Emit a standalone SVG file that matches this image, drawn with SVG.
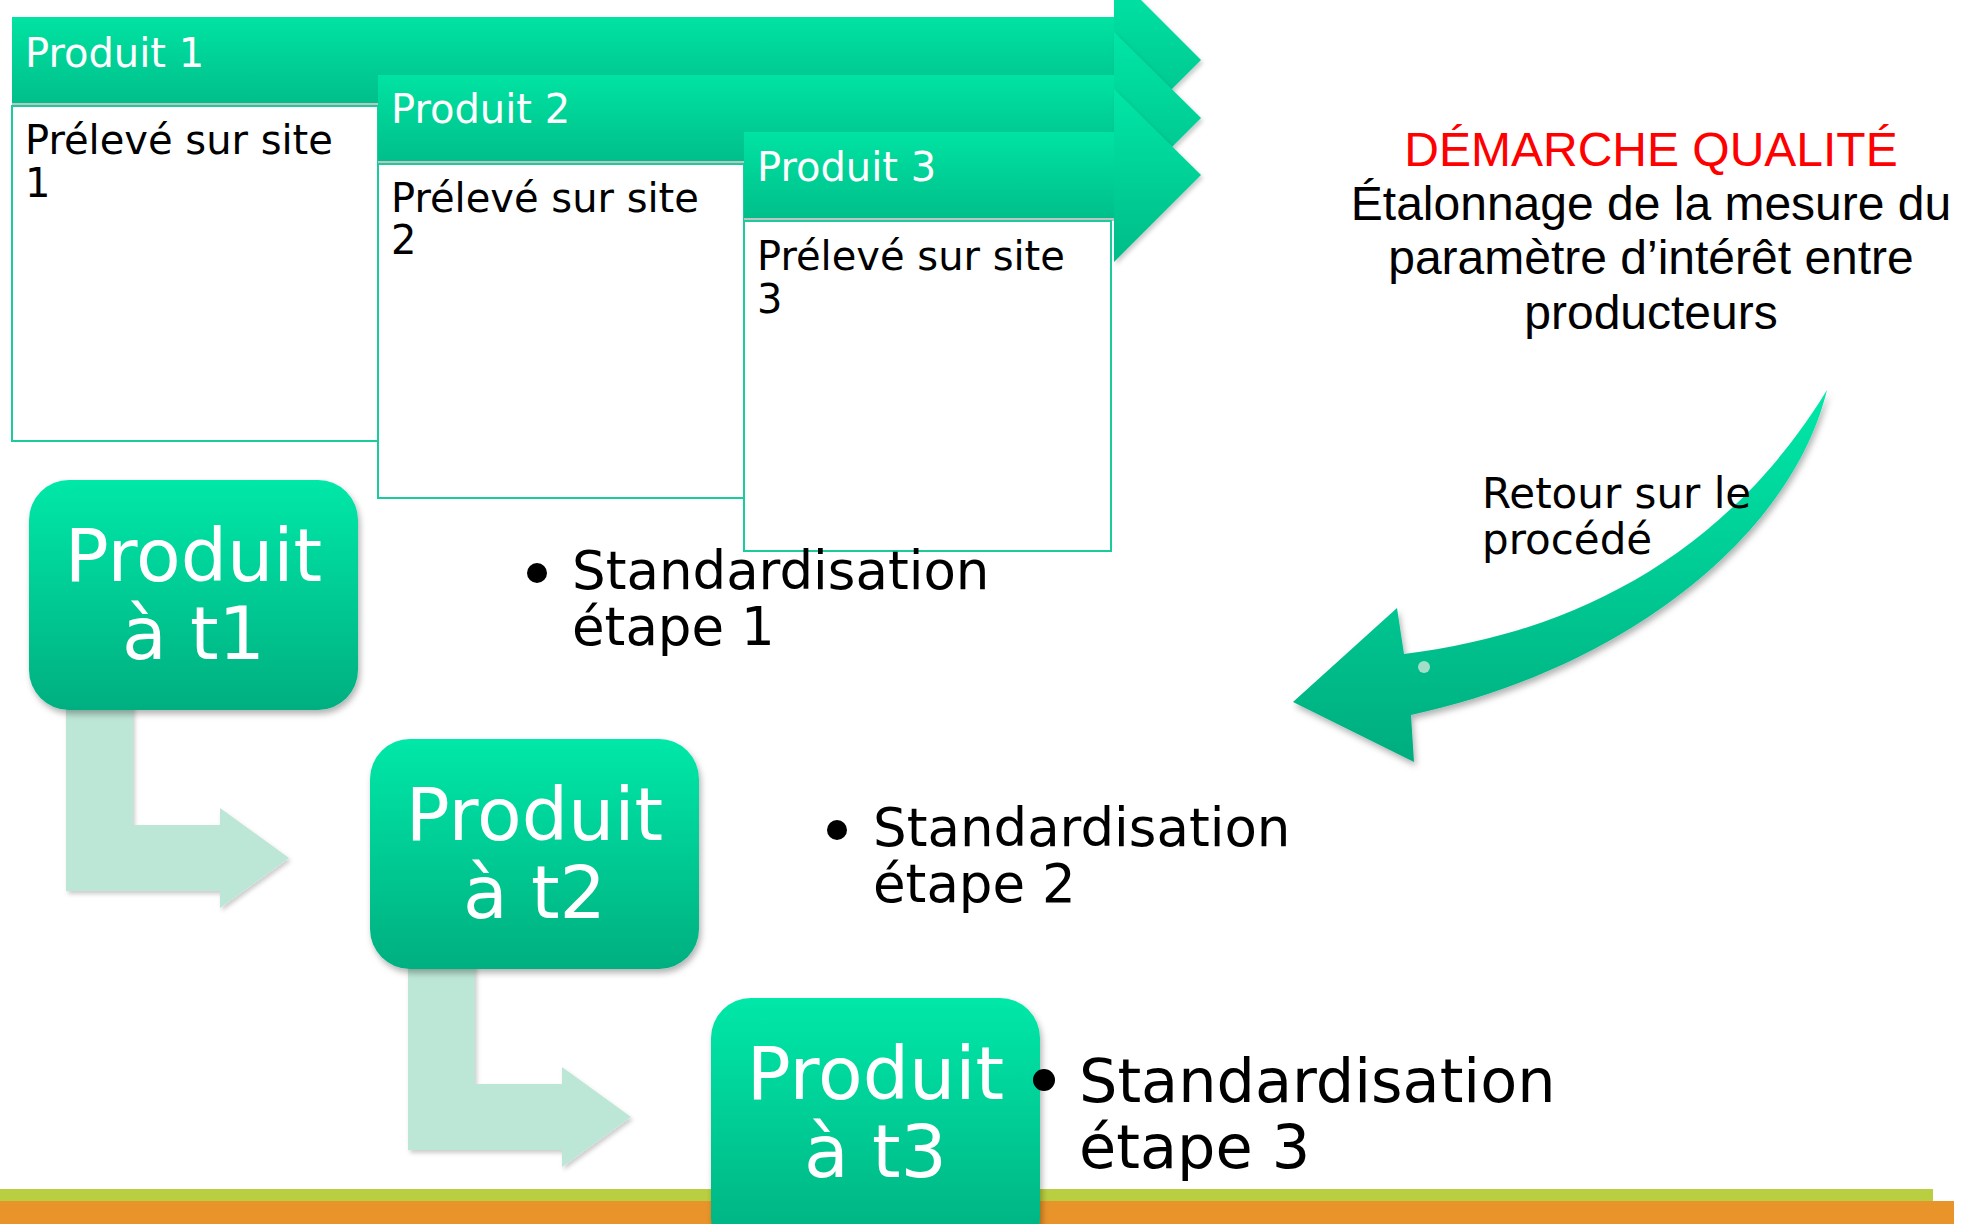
<svg xmlns="http://www.w3.org/2000/svg" width="1970" height="1224" viewBox="0 0 1970 1224">
<defs>
<linearGradient id="gBan" x1="0" y1="0" x2="0" y2="1"><stop offset="0" stop-color="#00E3A3"/><stop offset="1" stop-color="#00BF8A"/></linearGradient>
<linearGradient id="gHead" x1="0" y1="0" x2="0" y2="1"><stop offset="0" stop-color="#00E6A6"/><stop offset="1" stop-color="#00BC88"/></linearGradient>
<linearGradient id="gBox" x1="0" y1="0" x2="0" y2="1"><stop offset="0" stop-color="#00E8A8"/><stop offset="1" stop-color="#00AF80"/></linearGradient>
<linearGradient id="gCurve" x1="0" y1="0" x2="0" y2="1"><stop offset="0" stop-color="#00E8A8"/><stop offset="1" stop-color="#00AD7F"/></linearGradient>
<filter id="sh" x="-10%" y="-10%" width="130%" height="130%"><feDropShadow dx="2" dy="4" stdDeviation="3" flood-color="#000" flood-opacity="0.3"/></filter>
<filter id="shs" x="-10%" y="-10%" width="130%" height="130%"><feDropShadow dx="2" dy="3" stdDeviation="2" flood-color="#000" flood-opacity="0.2"/></filter>
</defs>
<style>
.ban{fill:url(#gBan)}
.head{fill:url(#gHead);filter:url(#shs)}
.sline{fill:#C2C2C2}
.card{fill:#fff;stroke:#1CCB9B;stroke-width:2}
.rbox{fill:url(#gBox);filter:url(#sh)}
.bent{fill:#BCE6D6;filter:url(#shs)}
.vt{font-family:"DejaVu Sans",Verdana,sans-serif}
.wt{fill:#fff}
.bt{fill:#000}
.ar{font-family:"Liberation Sans",Arial,sans-serif;font-size:48px;text-anchor:middle}
</style>
<rect width="1970" height="1224" fill="#fff"/>
<g id="bars">
<rect x="0" y="1189" width="1933" height="12" fill="#B9CE40"/>
<rect x="0" y="1201" width="1954" height="23" fill="#E8942A"/>
</g>
<g id="produit1">
<polygon class="head" points="1114,-27 1201,60 1114,147"/>
<rect class="sline" x="12" y="103" width="1102" height="3"/>
<rect class="ban" x="12" y="17" width="1102" height="86"/>
<text class="vt wt" x="25" y="67" font-size="40">Produit 1</text>
</g>
<g id="site1">
<rect class="card" x="12" y="106" width="366" height="335"/>
<text class="vt bt" font-size="40"><tspan x="25" y="154">Prélevé sur site</tspan><tspan x="25" y="197">1</tspan></text>
</g>
<g id="produit2">
<polygon class="head" points="1114,32 1201,118 1114,205"/>
<rect class="sline" x="378" y="161" width="736" height="3"/>
<rect class="ban" x="378" y="75" width="736" height="86"/>
<text class="vt wt" x="391" y="123" font-size="40">Produit 2</text>
</g>
<g id="site2">
<rect class="card" x="378" y="164" width="366" height="334"/>
<text class="vt bt" font-size="40"><tspan x="391" y="212">Prélevé sur site</tspan><tspan x="391" y="254">2</tspan></text>
</g>
<g id="produit3">
<polygon class="head" points="1114,89 1201,175 1114,262"/>
<rect class="sline" x="744" y="218" width="370" height="3"/>
<rect class="ban" x="744" y="132" width="370" height="86"/>
<text class="vt wt" x="757" y="181" font-size="40">Produit 3</text>
</g>
<g id="site3">
<rect class="card" x="744" y="221" width="367" height="330"/>
<text class="vt bt" font-size="40"><tspan x="757" y="270">Prélevé sur site</tspan><tspan x="757" y="313">3</tspan></text>
</g>
<g id="demarche">
<text class="ar" x="1651" y="166" fill="#FF0000">DÉMARCHE QUALITÉ</text>
<text class="ar" fill="#000"><tspan x="1651" y="220">Étalonnage de la mesure du</tspan><tspan x="1651" y="274">paramètre d’intérêt entre</tspan><tspan x="1651" y="329">producteurs</tspan></text>
</g>
<g id="connectors">
<polygon class="bent" points="66,700 133,700 133,825 220,825 220,808 289,858 220,908 220,891 66,891"/>
<polygon class="bent" points="408,959 475,959 475,1084 562,1084 562,1067 631,1117 562,1167 562,1150 408,1150"/>
<path d="M1827 390 C1790 540 1620 670 1411 715 L1414 762 L1293 702 L1397 608 L1404 654 C1560 635 1720 565 1827 390 Z" fill="url(#gCurve)" filter="url(#sh)"/>
<circle cx="1424" cy="667" r="6" fill="#A3DEC8"/>
</g>
<g id="retour">
<text class="vt bt" font-size="42"><tspan x="1482" y="508">Retour sur le</tspan><tspan x="1482" y="554">procédé</tspan></text>
</g>
<g id="t1">
<rect class="rbox" x="29" y="480" width="329" height="230" rx="40"/>
<text class="vt wt" font-size="73" text-anchor="middle"><tspan x="193.5" y="581">Produit</tspan><tspan x="193.5" y="659">à t1</tspan></text>
</g>
<g id="t2">
<rect class="rbox" x="370" y="739" width="329" height="230" rx="40"/>
<text class="vt wt" font-size="73" text-anchor="middle"><tspan x="534.5" y="840">Produit</tspan><tspan x="534.5" y="918">à t2</tspan></text>
</g>
<g id="t3">
<rect class="rbox" x="711" y="998" width="329" height="260" rx="40"/>
<text class="vt wt" font-size="73" text-anchor="middle"><tspan x="875.5" y="1099">Produit</tspan><tspan x="875.5" y="1177">à t3</tspan></text>
</g>
<g id="std1">
<circle cx="537" cy="573" r="10" fill="#000"/>
<text class="vt bt" font-size="53"><tspan x="572" y="589">Standardisation</tspan><tspan x="572" y="645">étape 1</tspan></text>
</g>
<g id="std2">
<circle cx="837" cy="830" r="10" fill="#000"/>
<text class="vt bt" font-size="53"><tspan x="873" y="846">Standardisation</tspan><tspan x="873" y="902">étape 2</tspan></text>
</g>
<g id="std3">
<circle cx="1044" cy="1080" r="11" fill="#000"/>
<text class="vt bt" font-size="60.5"><tspan x="1079" y="1102">Standardisation</tspan><tspan x="1079" y="1168">étape 3</tspan></text>
</g>
</svg>
